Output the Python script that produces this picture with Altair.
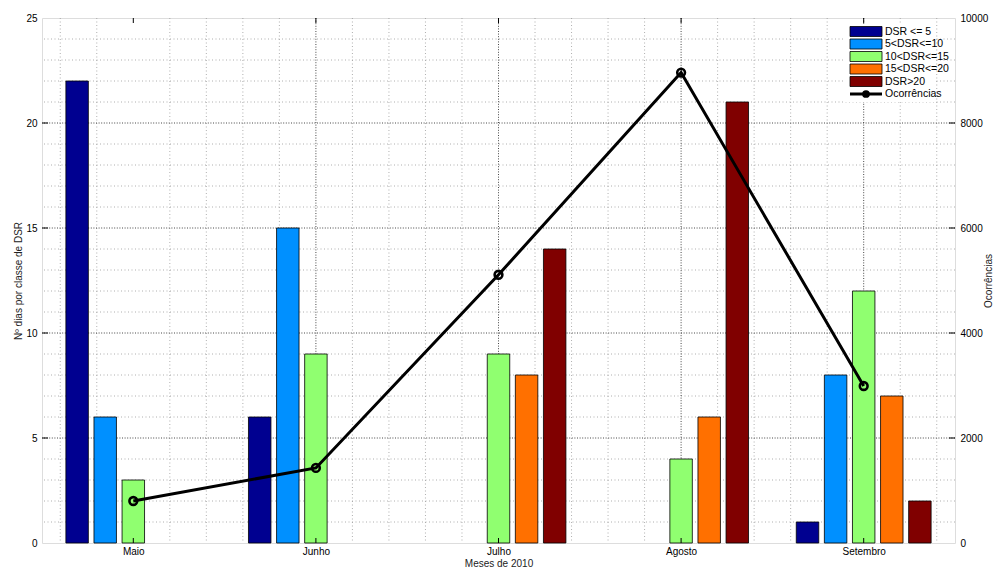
import altair as alt
import pandas as pd

# ---------------- data ----------------
months = ["Maio", "Junho", "Julho", "Agosto", "Setembro"]
series = ["DSR <= 5", "5<DSR<=10", "10<DSR<=15", "15<DSR<=20", "DSR>20"]
dsr_le5 = [22, 6, 0, 0, 1]
dsr_5_10 = [6, 15, 0, 0, 8]
dsr_10_15 = [3, 9, 9, 4, 12]
dsr_15_20 = [0, 0, 8, 6, 7]
dsr_gt20 = [0, 0, 14, 21, 2]
ocorrencias = [800, 1430, 5110, 8960, 2990]
line_label = "Ocorrências"

left_ticks = [0, 5, 10, 15, 20, 25]
right_ticks = [0, 2000, 4000, 6000, 8000, 10000]

colors = ["#000090", "#0090ff", "#90ff70", "#ff7000", "#800000"]
FONT = "Liberation Sans"

W, H = 913, 525
GROUP = 0.7692
STEP = GROUP / 5
BARW = STEP * 0.8

series_values = [dsr_le5, dsr_5_10, dsr_10_15, dsr_15_20, dsr_gt20]
rows = []
for mi, m in enumerate(months, start=1):
    for si, (s, vals) in enumerate(zip(series, series_values)):
        rows.append(dict(month=m, mi=mi, si=si, series=s, value=vals[mi - 1]))
bars_df = pd.DataFrame(rows)
line_df = pd.DataFrame({"month": months, "mi": list(range(1, len(months) + 1)), "oc": ocorrencias})

x_scale = alt.Scale(domain=[0.5, 5.5], nice=False, zero=False)
y_left = alt.Scale(domain=[0, 25], nice=False, zero=False)
y_right = alt.Scale(domain=[0, 10000], nice=False, zero=False)
color_scale = alt.Scale(domain=series, range=colors)

label_expr = "[" + ",".join("'%s'" % m for m in months) + "][datum.value - 1]"

x_axis = alt.Axis(
    values=list(range(1, len(months) + 1)), labelExpr=label_expr,
    title="Meses de 2010", grid=False, ticks=False, domain=False,
    labelPadding=3, labelFontSize=10, labelFont=FONT, labelColor="black",
    titleFont=FONT, titleFontSize=10, titleFontWeight="normal", titleColor="#222",
    titleX=W / 2, titleY=20, titleBaseline="middle", titleAlign="center")
y_left_axis = alt.Axis(
    values=left_ticks, title="Nº dias por classe de DSR", grid=False, ticks=False,
    domain=False, labelPadding=5, labelFontSize=10, labelFont=FONT, labelColor="black",
    titleFont=FONT, titleFontSize=10, titleFontWeight="normal", titleColor="#222",
    titleX=-24, titleY=H / 2, titleAngle=270, titleBaseline="middle", titleAlign="center")
y_right_axis = alt.Axis(
    orient="right", values=right_ticks, format="d", title=line_label, grid=False, ticks=False,
    domain=False, labelPadding=5, labelFontSize=10, labelFont=FONT, labelColor="black",
    titleFont=FONT, titleFontSize=10, titleFontWeight="normal", titleColor="#222",
    titleX=33, titleY=H / 2, titleAngle=270, titleBaseline="middle", titleAlign="center")

# grid values (styling)
xg_all = [round(0.6 + 0.2 * k, 1) for k in range(25)]
xg_minor = [v for v in xg_all if abs(v - round(v)) > 1e-6]
xg_major = [2, 3, 4, 5]
yg_minor = [v for v in range(1, 25) if v % 5 != 0]
yg_major = [5, 10, 15, 20]

minor_style = dict(color="#9a9a9a", strokeDash=[1, 2.5], strokeWidth=0.8)
major_style = dict(color="#333333", strokeDash=[1, 1.6], strokeWidth=0.9)

# first layers carry the axis definitions; later layers leave the axis unspecified
hgrid_minor = alt.Chart(pd.DataFrame({"v": yg_minor})).mark_rule(**minor_style).encode(
    y=alt.Y("v:Q", scale=y_left, axis=y_left_axis))
vgrid_minor = alt.Chart(pd.DataFrame({"v": xg_minor})).mark_rule(**minor_style).encode(
    x=alt.X("v:Q", scale=x_scale, axis=x_axis))
hgrid_major = alt.Chart(pd.DataFrame({"v": yg_major})).mark_rule(**major_style).encode(
    y=alt.Y("v:Q", scale=y_left))
vgrid_major = alt.Chart(pd.DataFrame({"v": xg_major})).mark_rule(**major_style).encode(
    x=alt.X("v:Q", scale=x_scale))

bars = alt.Chart(bars_df).transform_filter("datum.value > 0").transform_calculate(
    x0="datum.mi + (datum.si - 2) * %f - %f" % (STEP, BARW / 2),
    x1="datum.mi + (datum.si - 2) * %f + %f" % (STEP, BARW / 2),
).mark_rect(stroke="black", strokeWidth=0.8).encode(
    x=alt.X("x0:Q", scale=x_scale),
    x2="x1:Q",
    y=alt.Y("value:Q", scale=y_left),
    y2=alt.datum(0),
    color=alt.Color("series:N", scale=color_scale, legend=None),
)

# inward tick marks (MATLAB style)
mt = pd.DataFrame({"mi": list(range(1, len(months) + 1))})
xt_bottom = alt.Chart(mt).mark_rule(color="black", strokeWidth=1).encode(
    x=alt.X("mi:Q", scale=x_scale), y=alt.value(H), y2=alt.value(H - 5))
xt_top = alt.Chart(mt).mark_rule(color="black", strokeWidth=1).encode(
    x=alt.X("mi:Q", scale=x_scale), y=alt.value(0), y2=alt.value(5))
yt = pd.DataFrame({"v": left_ticks[1:-1]})
yt_left = alt.Chart(yt).mark_rule(color="black", strokeWidth=1).encode(
    y=alt.Y("v:Q", scale=y_left), x=alt.value(0), x2=alt.value(6))
yt_right = alt.Chart(yt).mark_rule(color="black", strokeWidth=1).encode(
    y=alt.Y("v:Q", scale=y_left), x=alt.value(W), x2=alt.value(W - 6))

left_group = alt.layer(hgrid_minor, vgrid_minor, hgrid_major, vgrid_major, bars,
                       xt_bottom, xt_top, yt_left, yt_right)

line = alt.Chart(line_df).mark_line(color="black", strokeWidth=3).encode(
    x=alt.X("mi:Q", scale=x_scale),
    y=alt.Y("oc:Q", scale=y_right, axis=y_right_axis),
)
pts = alt.Chart(line_df).mark_point(shape="circle", filled=False, stroke="black",
                                    strokeWidth=2.6, size=60, opacity=1).encode(
    x=alt.X("mi:Q", scale=x_scale),
    y=alt.Y("oc:Q", scale=y_right),
)
right_group = alt.layer(line, pts)

# legend
leg_df = pd.DataFrame({"name": series + [line_label], "i": list(range(len(series) + 1))})
leg_base = alt.Chart(leg_df).transform_calculate(
    py="13.5 + datum.i * 12.5", ya="13.5 + datum.i * 12.5 - 5", yb="13.5 + datum.i * 12.5 + 5")
leg_bg = alt.Chart(pd.DataFrame({"a": [0]})).mark_rect(fill="white").encode(
    x=alt.value(801), x2=alt.value(894), y=alt.value(6), y2=alt.value(84))
leg_sw = leg_base.transform_filter("datum.i < %d" % len(series)).mark_rect(
    stroke="black", strokeWidth=0.8).encode(
    x=alt.value(808), x2=alt.value(840),
    y=alt.Y("ya:Q", scale=None), y2="yb:Q",
    color=alt.Color("name:N", scale=color_scale, legend=None))
leg_line = leg_base.transform_filter("datum.i == %d" % len(series)).mark_rule(
    color="black", strokeWidth=3).encode(
    x=alt.value(808), x2=alt.value(840), y=alt.Y("py:Q", scale=None))
leg_dot = leg_base.transform_filter("datum.i == %d" % len(series)).mark_point(
    shape="circle", filled=True, color="black", size=60, opacity=1).encode(
    x=alt.value(824), y=alt.Y("py:Q", scale=None))
leg_txt = leg_base.mark_text(align="left", baseline="middle", fontSize=10.5,
                             font=FONT, color="black").encode(
    x=alt.value(843), y=alt.Y("py:Q", scale=None), text="name:N")

chart = alt.layer(left_group, right_group, leg_bg, leg_sw, leg_line, leg_dot, leg_txt).resolve_scale(
    y="independent"
).properties(
    width=W, height=H,
    autosize=alt.AutoSizeParams(type="none"),
    padding={"left": 34, "top": 10, "right": 40, "bottom": 26},
).configure_view(stroke="black", strokeWidth=1.2).configure(background="white")

chart.save("out.html", embed_options={"renderer": "svg", "actions": False})
